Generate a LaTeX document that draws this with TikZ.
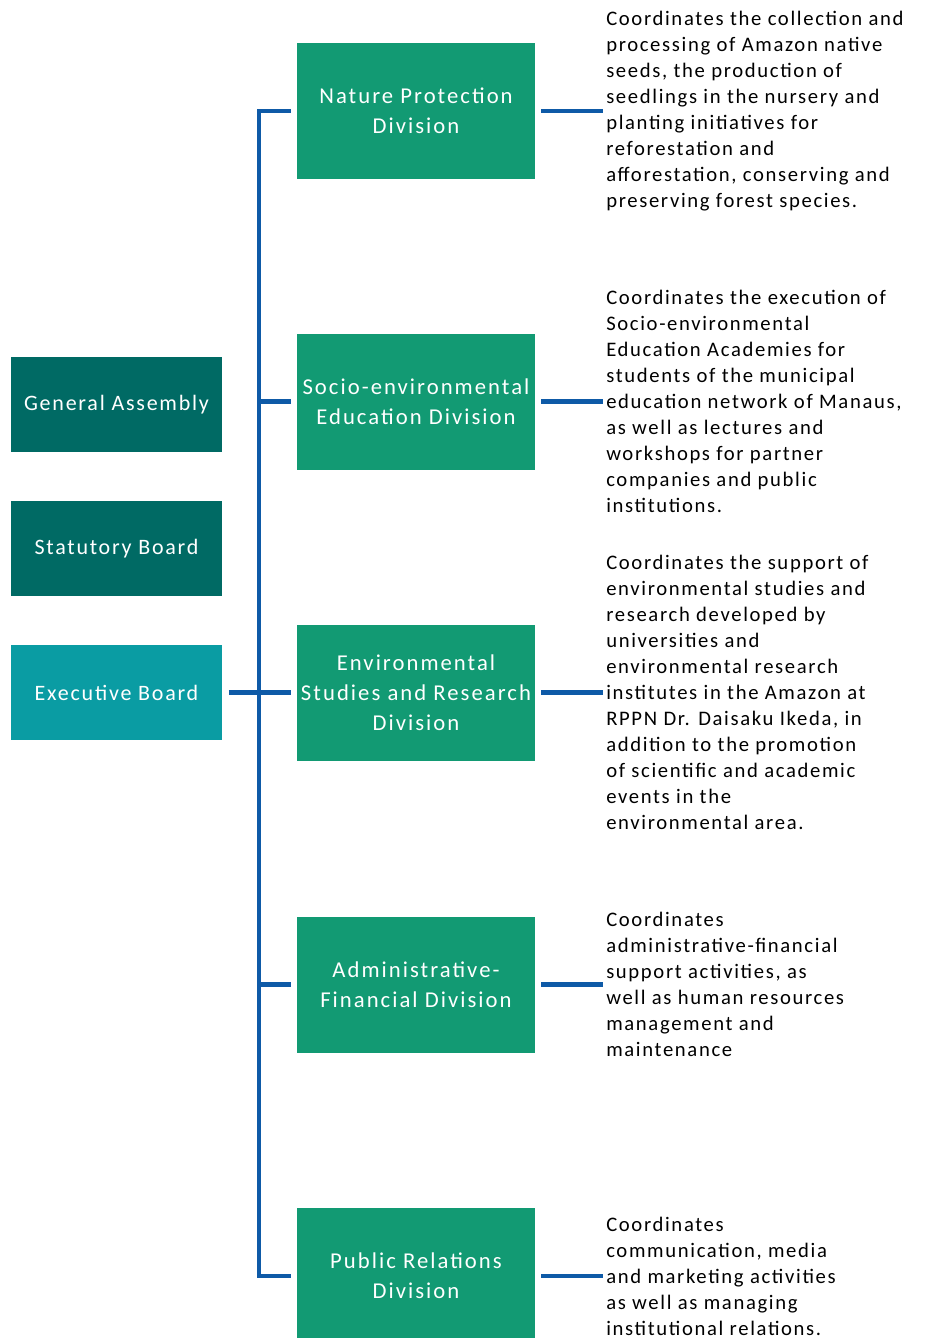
\documentclass[tikz,border=0pt]{standalone}
\usepackage{fontspec}
\setmainfont{Carlito}
\usetikzlibrary{positioning,calc}
\definecolor{boardgreen}{RGB}{0,106,100}
\definecolor{execteal}{RGB}{10,156,163}
\definecolor{divgreen}{RGB}{18,154,115}
\definecolor{linkblue}{RGB}{14,90,167}
\tikzstyle{board} = [fill=boardgreen, text=white, minimum width=158pt, minimum height=71pt, inner sep=2pt, font=\fontsize{16.5pt}{21pt}\selectfont\addfontfeature{LetterSpace=8}]
\tikzstyle{division} = [fill=divgreen, text=white, minimum width=178.5pt, minimum height=102pt, inner sep=1pt, align=center, font=\fontsize{17pt}{22.5pt}\selectfont\addfontfeature{LetterSpace=9}]
\tikzstyle{desc} = [anchor=west, inner sep=2.25pt, align=left, font=\fontsize{15.5pt}{19.5pt}\selectfont\addfontfeature{LetterSpace=8}]
\tikzstyle{link} = [draw=linkblue, line width=3.5pt]

\begin{document}
\begin{tikzpicture}[x=0.75pt, y=-0.75pt]
    \useasboundingbox (0,0) rectangle (926,1338);
    % left column
    \node[board] (ga) at (116.5,404.5) {General Assembly};
    \node[board] (sb) at (116.5,548.5) {Statutory Board};
    \node[board, fill=execteal] (eb) at (116.5,692.5) {Executive Board};
    % divisions
    \node[division] (npd) at (416,111) {Nature Protection\\Division};
    \node[division] (sed) at (416,401.5) {Socio-environmental\\Education Division};
    \node[division] (esr) at (416,692.5) {Environmental\\Studies and Research\\Division};
    \node[division] (afd) at (416,984.5) {Administrative-\\Financial Division};
    \node[division] (prd) at (416,1276) {Public Relations\\Division};
    % descriptions
    \node[desc] (npdtxt) at (603,111) {Coordinates the collection and\\processing of Amazon native\\seeds, the production of\\seedlings in the nursery and\\planting initiatives for\\reforestation and\\afforestation, conserving and\\preserving forest species.};
    \node[desc] (sedtxt) at (603,401.5) {Coordinates the execution of\\Socio-environmental\\Education Academies for\\students of the municipal\\education network of Manaus,\\as well as lectures and\\workshops for partner\\companies and public\\institutions.};
    \node[desc] (esrtxt) at (603,692.5) {Coordinates the support of\\environmental studies and\\research developed by\\universities and\\environmental research\\institutes in the Amazon at\\RPPN Dr. Daisaku Ikeda, in\\addition to the promotion\\of scientific and academic\\events in the\\environmental area.};
    \node[desc] (afdtxt) at (603,984.5) {Coordinates\\administrative-financial\\support activities, as\\well as human resources\\management and\\maintenance};
    \node[desc] (prdtxt) at (603,1276) {Coordinates\\communication, media\\and marketing activities\\as well as managing\\institutional relations.};
    % connectors
    \coordinate (trunk) at (259,0);
    \draw[link, shorten <=4.5pt, shorten >=4.5pt] (npd.west) -- (npd.west -| trunk) -- (prd.west -| trunk) -- (prd.west);
    \foreach \d in {sed,esr,afd}
      \draw[link, shorten >=4.5pt] (\d.west -| trunk) -- (\d.west);
    \draw[link, shorten <=5pt, shorten >=4.5pt] (eb.east) -- (esr.west);
    \foreach \d in {npd,sed,esr,afd,prd}
      \draw[link, shorten <=4.5pt] (\d.east) -- (\d txt.west);
\end{tikzpicture}
\end{document}
